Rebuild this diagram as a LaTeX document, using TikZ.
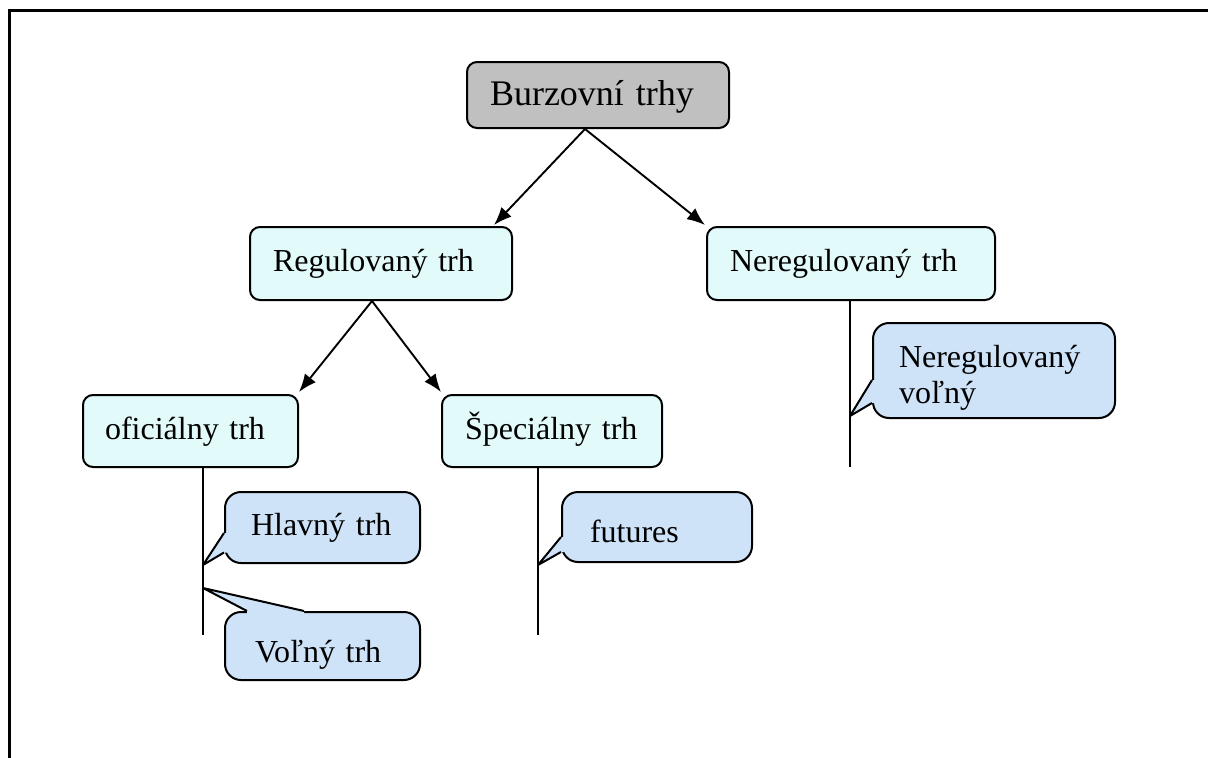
\documentclass[tikz,border=0pt]{standalone}
\usepackage{fontspec}
\setmainfont{Liberation Serif}
\usetikzlibrary{arrows.meta,calc}
\definecolor{rectfill}{RGB}{226,250,250}
\definecolor{callfill}{RGB}{206,226,248}
\definecolor{topfill}{RGB}{192,192,192}
\hbadness=10000 \hfuzz=20pt
\tikzset{
  box/.style={draw, line width=2pt, rounded corners=10pt, fill=rectfill, align=left,
              font=\fontsize{32}{36}\selectfont, inner ysep=0pt, text height=23pt, text depth=7pt},
  callbox/.style={draw, line width=2pt, rounded corners=16pt, fill=callfill, align=left,
              font=\fontsize{32}{36}\selectfont, inner ysep=0pt, text height=23pt, text depth=7pt},
  arr/.style={line width=1.9pt, -{Latex[length=18pt,width=14pt]}},
  stem/.style={line width=1.9pt},
  tail/.style={line width=2pt, line join=round},
}
\begin{document}
\begin{tikzpicture}[x=1pt,y=-1pt]
\useasboundingbox (0,0) rectangle (1208,758);
\draw[line width=3pt] (9,758) -- (9,10) -- (1208,10);

% nodes
\node[box, fill=topfill, font=\fontsize{36}{40}\selectfont, text height=26pt, text depth=6pt, inner xsep=23pt, text width=216pt, minimum height=66pt] (top) at (598,95) {Burzovní trhy};
\node[box, text height=22pt, inner xsep=23pt, text width=216pt, minimum height=73pt] (reg) at (381,263.5) {Regulovaný trh};
\node[box, text height=22pt, inner xsep=23pt, text width=242pt, minimum height=73pt] (nereg) at (851,263.5) {Neregulovaný trh};
\node[box, inner xsep=22pt, text width=171pt, minimum height=72pt] (ofic) at (190.5,431) {oficiálny trh};
\node[box, inner xsep=23pt, text width=174pt, minimum height=72pt] (spec) at (552,431) {Špeciálny trh};

% arrows
\draw[arr] ($(top.south)+(-13,0)$) -- ($(reg.north east)+(-19,-1)$);
\draw[arr] ($(top.south)+(-13,0)$) -- ($(nereg.north west)+(-1,-1)$);
\draw[arr] ($(reg.south)+(-9,0)$) -- ($(ofic.north east)+(0,-2)$);
\draw[arr] ($(reg.south)+(-9,0)$) -- ($(spec.north west)+(0,-2)$);

% stems
\coordinate (ofend) at (203,635);
\coordinate (spend) at (538,635);
\coordinate (neend) at (850,467);
\draw[stem] (ofic.south -| ofend) -- (ofend);
\draw[stem] (spec.south -| spend) -- (spend);
\draw[stem] (nereg.south -| neend) -- (neend);

% callouts
\node[callbox, inner xsep=26pt, text width=143pt, minimum height=71pt] (hl) at (322.5,527.5) {Hlavný trh};
\node[callbox, text height=32pt, text depth=0pt, inner xsep=30pt, text width=135pt, minimum height=68pt] (vo) at (322.5,646) {Voľný trh};
\node[callbox, text height=30pt, text depth=0pt, inner xsep=28pt, text width=134pt, minimum height=70pt] (fut) at (657,527) {futures};
\node[callbox, text height=, text depth=, inner xsep=26pt, text width=190pt, minimum height=95pt] (nv) at (994,370.5) {\rule{0pt}{37pt}Neregulovaný\\voľný};

\coordinate (hltip) at (203,565);
\coordinate (votip) at (203,588);
\coordinate (futip) at (538,565);
\coordinate (nvtip) at (850,416);

% tails: hl (left side)
\fill[callfill] ($(hl.west)+(0,5.5)$) -- (hltip) -- ($(hl.west)+(0,25)$) -- ($(hl.west)+(4,25)$) -- ($(hl.west)+(4,5.5)$) -- cycle;
\draw[tail] ($(hl.west)+(0,5.5)$) -- (hltip) -- ($(hl.west)+(0,25)$);
% vo (top side)
\fill[callfill] ($(vo.north west)+(23,0)$) -- (votip) -- ($(vo.north west)+(80,0)$) -- ($(vo.north west)+(80,4)$) -- ($(vo.north west)+(23,4)$) -- cycle;
\draw[tail] ($(vo.north west)+(23,0)$) -- (votip) -- ($(vo.north west)+(80,0)$);
% fut (left side)
\fill[callfill] ($(fut.west)+(0,10)$) -- (futip) -- ($(fut.west)+(0,25)$) -- ($(fut.west)+(4,25)$) -- ($(fut.west)+(4,10)$) -- cycle;
\draw[tail] ($(fut.west)+(0,10)$) -- (futip) -- ($(fut.west)+(0,25)$);
% nv (left side)
\fill[callfill] ($(nv.west)+(0,9.5)$) -- (nvtip) -- ($(nv.west)+(0,32.5)$) -- ($(nv.west)+(4,32.5)$) -- ($(nv.west)+(4,9.5)$) -- cycle;
\draw[tail] ($(nv.west)+(0,9.5)$) -- (nvtip) -- ($(nv.west)+(0,32.5)$);
\end{tikzpicture}
\end{document}
